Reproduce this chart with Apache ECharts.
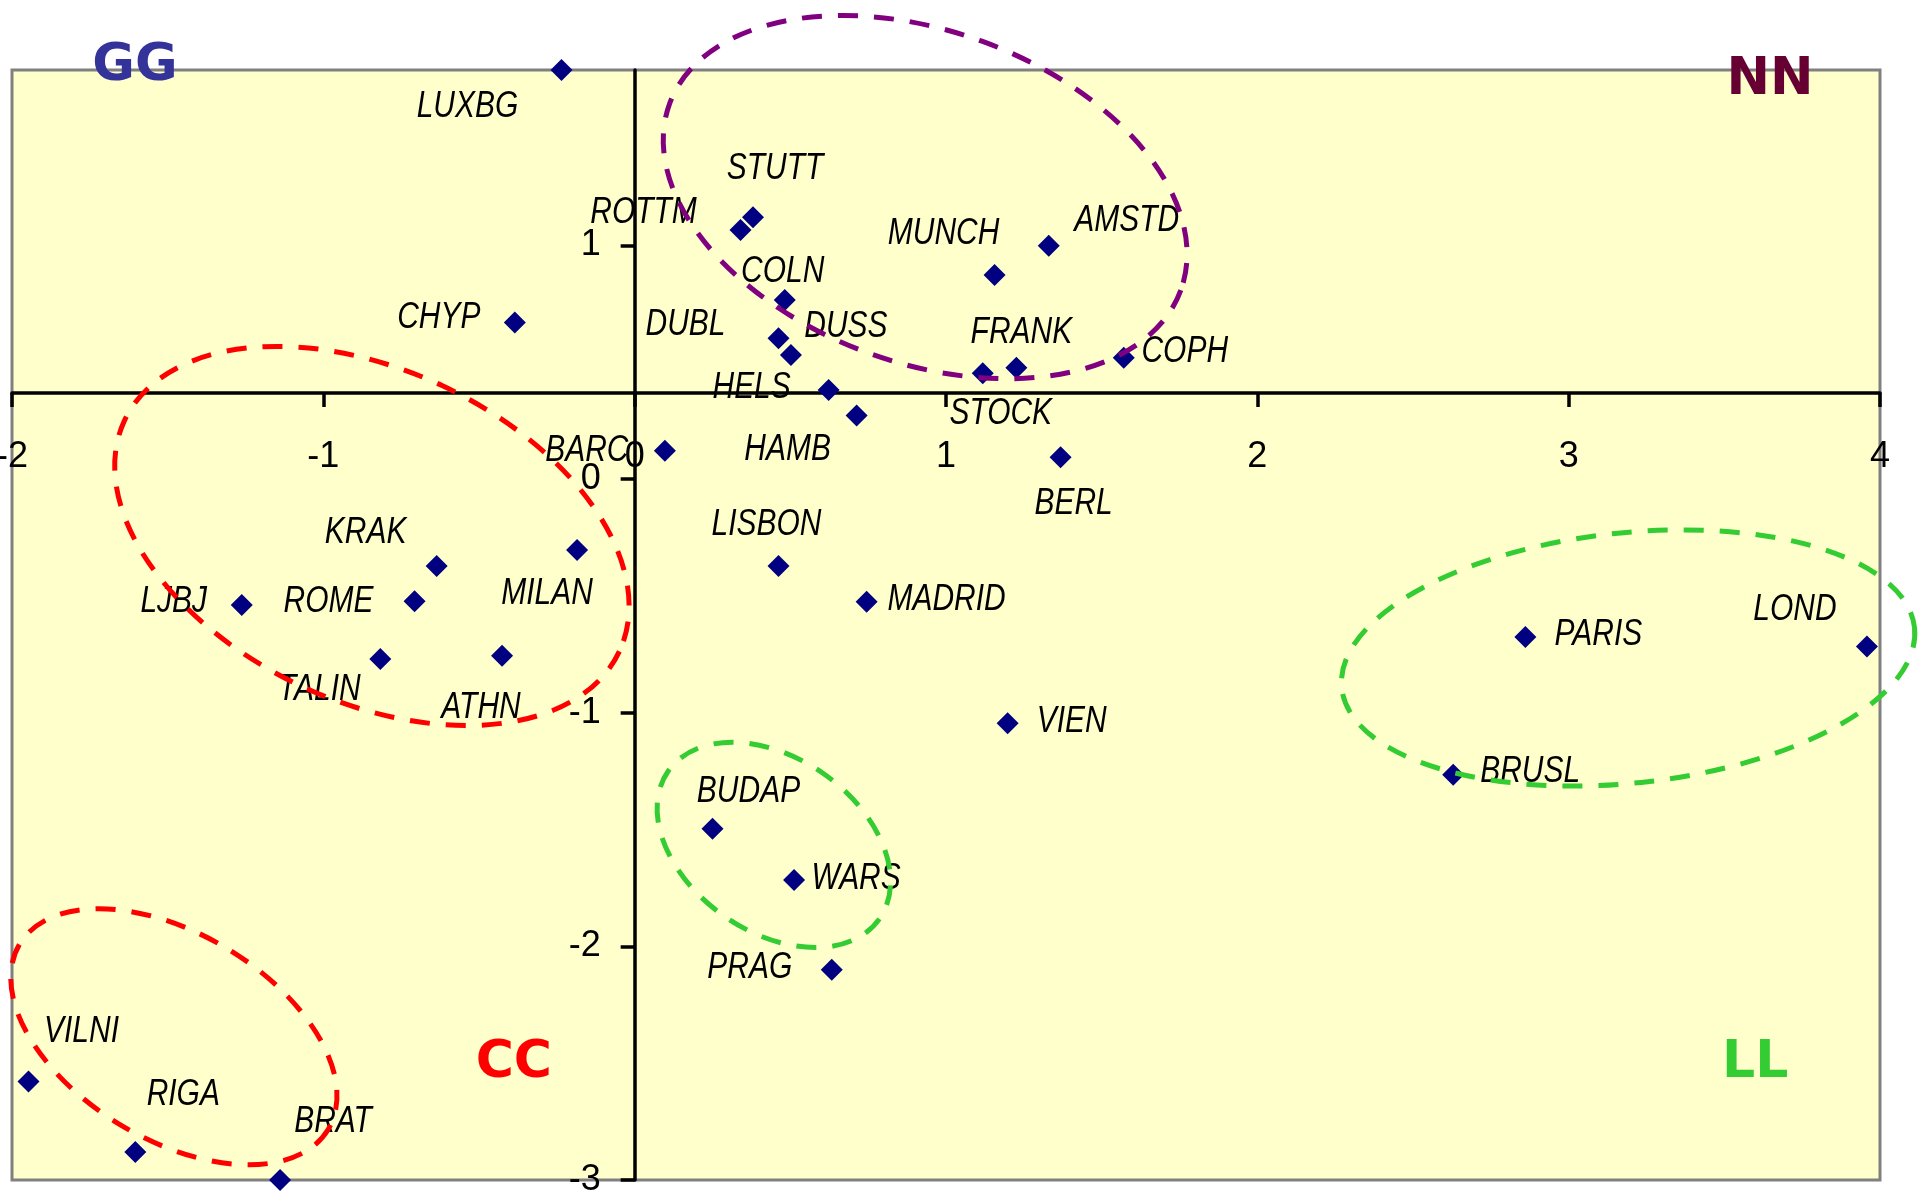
<!DOCTYPE html>
<html>
<head>
<meta charset="utf-8">
<script src="https://cdn.jsdelivr.net/npm/echarts@6/dist/echarts.min.js"></script>
<style>
html,body{margin:0;padding:0;background:#ffffff;}
#chart{width:1920px;height:1192px;}
</style>
</head>
<body>
<div id="chart"></div>
<script>
// ---------------- data ----------------
const cities = ['LUXBG','CHYP','ROTTM','STUTT','AMSTD','MUNCH','COLN','DUBL','DUSS','HELS','FRANK','STOCK','COPH','HAMB','BARC','BERL','LISBON','MADRID','VIEN','BUDAP','WARS','PRAG','MILAN','KRAK','ROME','LJBJ','TALIN','ATHN','PARIS','LOND','BRUSL','VILNI','RIGA','BRAT'];
const xValues = [-0.235,-0.385,0.340,0.380,1.330,1.156,0.482,0.462,0.502,0.623,1.226,1.118,1.571,0.713,0.097,1.368,0.462,0.745,1.198,0.250,0.512,0.633,-0.185,-0.636,-0.707,-1.262,-0.817,-0.426,2.861,3.958,2.629,-1.947,-1.604,-1.139];
const yValues = [1.750,0.669,1.065,1.120,0.998,0.873,0.766,0.602,0.530,0.381,0.476,0.452,0.519,0.271,0.121,0.093,-0.372,-0.525,-1.045,-1.497,-1.716,-2.100,-0.304,-0.372,-0.523,-0.539,-0.770,-0.757,-0.676,-0.717,-1.266,-2.578,-2.880,-3.000];

const xTicks = [-2,-1,0,1,2,3,4];
const yTicks = [-3,-2,-1,0,1];
const yMax = 1.75;
const xAxisCrossesAt = 0.368;   // horizontal axis crosses the vertical axis at this y value
const yAxisCrossesAt = 0;       // vertical axis crosses the horizontal axis at this x value

// quadrant labels (placed in data coordinates)
const quadrantNames = ['GG','NN','CC','LL'];
const quadrantX = [-1.605, 3.647, -0.388, 3.599];
const quadrantY = [1.767, 1.703, -2.503, -2.503];

// ---------------- layout / style config ----------------
const quadrantColors = ['#333399','#660033','#FF0000','#33CC33'];
const labelOffsets = {
  LUXBG:[-94,37], CHYP:[-76,-5], ROTTM:[-97,-17], STUTT:[22,-49], AMSTD:[78,-25],
  MUNCH:[-51,-41], COLN:[-2,-28], DUBL:[-93,-14], DUSS:[55,-28], HELS:[-77,-2],
  FRANK:[5,-35], STOCK:[18,40], COPH:[61,-6], HAMB:[-69,34], BARC:[-78,0],
  BERL:[13,46], LISBON:[-12,-41], MADRID:[80,-2], VIEN:[64,-1], BUDAP:[36,-37],
  WARS:[62,-1], PRAG:[-82,-2], MILAN:[-30,44], KRAK:[-71,-33], ROME:[-86,1],
  LJBJ:[-68,-3], TALIN:[-61,31], ATHN:[-21,52], PARIS:[73,-2], LOND:[-72,-37],
  BRUSL:[77,-3], VILNI:[53,-50], RIGA:[48,-57], BRAT:[53,-58]
};
// group ellipses: [centerX, centerY, semi-major, semi-minor (x-axis units), screen rotation deg]
const groupEllipses = [
  [0.933, 1.206, 0.874, 0.533, 20],
  [-0.844, -0.244, 0.877, 0.533, 25],
  [-1.480, -2.387, 0.578, 0.331, 31],
  [0.447, -1.566, 0.414, 0.279, 35],
  [3.191, -0.766, 0.925, 0.402, -6]
];
const ellipseColors = ['#800080','#FF0000','#FF0000','#33CC33','#33CC33'];

const labelFont = "'Liberation Sans',Arial,sans-serif";
const narrowScale = 0.81;

const W = 1920, H = 1192;
const plot = { left: 12, right: 40, top: 70, bottom: 12 };
const plotW = W - plot.left - plot.right;
const plotH = H - plot.top - plot.bottom;
const xMin = xTicks[0], xMax = xTicks[xTicks.length - 1], yMin = yTicks[0];
// grids that carry the visible crossing axes
const xAxisGridHeight = (yMax - xAxisCrossesAt) / (yMax - yMin) * plotH;
const yAxisGridLeft = plot.left + (yAxisCrossesAt - xMin) / (xMax - xMin) * plotW;

const pointData = cities.map((c, i) => [xValues[i], yValues[i]]);
const quadData = quadrantNames.map((n, i) => ({
  name: n,
  value: [quadrantX[i], quadrantY[i]],
  label: { color: quadrantColors[i] }
}));

const axisLineStyle = { color: '#000', width: 3.5 };
const tickLabel = { fontSize: 36, color: '#000', fontFamily: labelFont };

const chart = echarts.init(document.getElementById('chart'), null, {renderer: 'canvas'});
chart.setOption({
  animation: false,
  backgroundColor: '#ffffff',
  grid: [
    { left: plot.left, right: plot.right, top: plot.top, bottom: plot.bottom,
      show: true, backgroundColor: '#FFFFCC', borderColor: '#808080', borderWidth: 3,
      containLabel: false, outerBoundsMode: 'none' },
    { left: plot.left, right: plot.right, top: plot.top, height: xAxisGridHeight,
      show: false, containLabel: false, outerBoundsMode: 'none' },
    { left: yAxisGridLeft, right: plot.right, top: plot.top, bottom: plot.bottom,
      show: false, containLabel: false, outerBoundsMode: 'none' }
  ],
  xAxis: [
    { gridIndex: 0, type: 'value', min: xMin, max: xMax, interval: 1, show: false, splitLine: { show: false } },
    { gridIndex: 1, type: 'value', min: xMin, max: xMax, interval: 1, position: 'bottom',
      axisLine: { show: true, onZero: false, lineStyle: axisLineStyle },
      axisTick: { show: true, inside: false, length: 14, lineStyle: axisLineStyle },
      axisLabel: Object.assign({ show: true, margin: 46, showMinLabel: true, showMaxLabel: true }, tickLabel),
      splitLine: { show: false } },
    { gridIndex: 2, type: 'value', min: yAxisCrossesAt, max: xMax, show: false, splitLine: { show: false } }
  ],
  yAxis: [
    { gridIndex: 0, type: 'value', min: yMin, max: yMax, interval: 1, show: false, splitLine: { show: false } },
    { gridIndex: 1, type: 'value', min: xAxisCrossesAt, max: yMax, show: false, splitLine: { show: false } },
    { gridIndex: 2, type: 'value', min: yMin, max: yMax, interval: 1, position: 'left',
      axisLine: { show: true, onZero: false, lineStyle: axisLineStyle },
      axisTick: { show: true, inside: false, length: 14, lineStyle: axisLineStyle, customValues: yTicks },
      axisLabel: Object.assign({ show: true, margin: 34, customValues: yTicks,
        formatter: v => Number.isInteger(v) ? String(v) : '' }, tickLabel),
      splitLine: { show: false } }
  ],
  series: [
    {
      type: 'scatter',
      xAxisIndex: 0, yAxisIndex: 0,
      symbol: 'diamond',
      symbolSize: [22, 22],
      clip: false,
      itemStyle: { color: '#000080', opacity: 1 },
      data: pointData,
      z: 3
    },
    {
      type: 'custom',
      xAxisIndex: 0, yAxisIndex: 0,
      clip: false,
      silent: true,
      z: 4,
      data: pointData,
      renderItem: function (params, api) {
        const p = api.coord([api.value(0), api.value(1)]);
        const name = cities[params.dataIndex];
        const off = labelOffsets[name];
        return {
          type: 'text',
          x: p[0] + off[0], y: p[1] + off[1],
          scaleX: narrowScale,
          style: { text: name, fontSize: 37, fontStyle: 'italic', fontFamily: labelFont,
                   fill: '#000', align: 'center', verticalAlign: 'middle' }
        };
      }
    },
    {
      type: 'scatter',
      xAxisIndex: 0, yAxisIndex: 0,
      symbolSize: 0,
      clip: false,
      itemStyle: { opacity: 1 },
      label: {
        show: true, position: 'inside', formatter: '{b}',
        fontSize: 52, fontWeight: 'bold', fontFamily: "'DejaVu Sans',Verdana,sans-serif",
        align: 'center', verticalAlign: 'middle'
      },
      data: quadData,
      silent: true,
      z: 4
    },
    {
      type: 'custom',
      xAxisIndex: 0, yAxisIndex: 0,
      clip: false,
      silent: true,
      z: 5,
      data: groupEllipses,
      renderItem: function (params, api) {
        const c = api.coord([api.value(0), api.value(1)]);
        const unit = api.size([1, 1])[0];
        const a = api.value(2) * unit, b = api.value(3) * unit, ang = api.value(4);
        const t = ang * Math.PI / 180;
        const x1 = c[0] + a * Math.cos(t), y1 = c[1] + a * Math.sin(t);
        const x2 = c[0] - a * Math.cos(t), y2 = c[1] - a * Math.sin(t);
        const d = 'M' + x1 + ' ' + y1 + ' A' + a + ' ' + b + ' ' + ang + ' 0 1 ' + x2 + ' ' + y2 +
                  ' A' + a + ' ' + b + ' ' + ang + ' 0 1 ' + x1 + ' ' + y1 + ' Z';
        return {
          type: 'path',
          shape: { pathData: d },
          style: { fill: 'none', stroke: ellipseColors[params.dataIndex], lineWidth: 5, lineDash: [20, 16] }
        };
      }
    }
  ]
});
</script>
</body>
</html>
